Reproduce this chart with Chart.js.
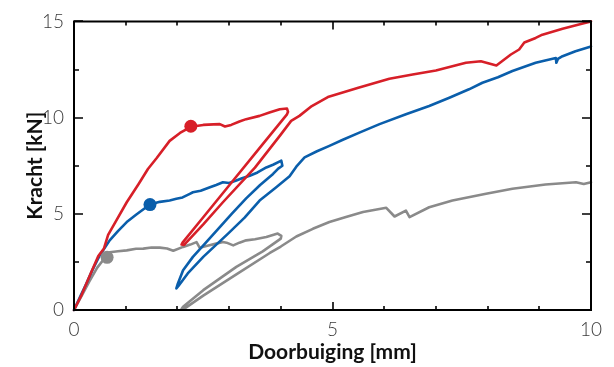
<!DOCTYPE html>
<html>
<head>
<meta charset="utf-8">
<script src="https://cdn.jsdelivr.net/npm/chart.js@4/dist/chart.umd.min.js"></script>
<style>
html,body{margin:0;padding:0;background:#fff;}
#wrap{width:614px;height:367px;position:relative;}
</style>
</head>
<body>
<div id="wrap"><canvas id="c" width="614" height="367"></canvas></div>
<script>
// Red specimen
const redX = [0,0.15,0.3,0.47,0.58,0.66,0.82,1.02,1.25,1.43,1.6,1.85,2.05,2.26,2.5,2.7,2.82,2.92,3.04,3.2,3.33,3.59,3.78,3.98,4.12,4.14,4.12,3.6,3.0,2.5,2.1,2.08,2.13,2.5,2.88,3.5,3.98,4.2,4.36,4.6,4.91,5.5,6.1,6.55,7.0,7.58,7.87,8.17,8.45,8.61,8.71,8.93,9.06,9.45,9.86,10];
const redY = [0,0.8,1.75,2.8,3.2,3.9,4.66,5.6,6.55,7.33,7.9,8.79,9.2,9.52,9.62,9.65,9.66,9.54,9.62,9.8,9.92,10.09,10.26,10.43,10.47,10.3,10.17,8.45,6.47,4.82,3.5,3.4,3.38,4.45,5.6,7.4,9.05,9.83,10.09,10.6,11.07,11.55,12.02,12.24,12.45,12.85,12.93,12.71,13.28,13.54,13.9,14.14,14.31,14.62,14.9,15];
// Blue specimen
const blueX = [0,0.12,0.24,0.36,0.5,0.69,0.85,1.02,1.2,1.35,1.47,1.66,1.85,1.98,2.1,2.24,2.3,2.45,2.63,2.75,2.88,3.0,3.14,3.25,3.4,3.55,3.72,3.85,4.01,4.03,3.95,3.85,3.6,3.33,3.05,2.82,2.55,2.3,2.11,2.01,1.98,2.02,2.2,2.5,2.98,3.3,3.59,3.9,4.17,4.3,4.46,4.7,4.94,5.2,5.52,5.91,6.42,6.87,7.26,7.64,7.9,8.2,8.48,8.93,9.32,9.33,9.36,9.45,9.7,10];
const blueY = [0,0.7,1.38,2.1,2.85,3.62,4.1,4.57,4.95,5.25,5.48,5.62,5.69,5.78,5.85,6.04,6.12,6.2,6.38,6.5,6.64,6.6,6.73,6.85,6.98,7.15,7.41,7.55,7.76,7.5,7.35,7.07,6.5,5.8,5.0,4.31,3.5,2.76,2.07,1.38,1.12,1.25,1.9,2.76,3.97,4.8,5.69,6.35,6.95,7.45,7.93,8.25,8.53,8.85,9.22,9.66,10.17,10.6,11.03,11.47,11.81,12.1,12.42,12.85,13.1,12.85,13.05,13.19,13.45,13.7];
// Grey specimen
const greyX = [0,0.15,0.3,0.45,0.58,0.64,0.69,0.85,1.02,1.2,1.34,1.5,1.66,1.8,1.92,2.11,2.25,2.37,2.43,2.6,2.75,2.88,2.95,3.08,3.2,3.33,3.5,3.72,3.94,4.01,4.0,3.65,3.14,2.5,2.11,2.08,2.15,2.5,3.14,3.78,4.0,4.3,4.62,4.94,5.26,5.59,6.04,6.2,6.42,6.49,6.87,7.32,7.97,8.48,9.12,9.71,9.86,10];
const greyY = [0,0.75,1.5,2.2,2.65,2.74,3.0,3.05,3.1,3.18,3.19,3.25,3.24,3.2,3.08,3.28,3.4,3.53,3.24,3.35,3.45,3.53,3.5,3.36,3.5,3.62,3.68,3.79,3.97,3.85,3.71,3.05,2.24,1.03,0.17,0.05,0.1,0.75,1.85,2.95,3.3,3.82,4.22,4.57,4.83,5.09,5.31,4.86,5.17,4.83,5.34,5.69,6.04,6.3,6.52,6.64,6.55,6.64];
// Marked points (x, y)
const markRed = [2.26, 9.55];
const markBlue = [1.47, 5.48];
const markGrey = [0.64, 2.74];
// Axis ranges and ticks
const xMin = 0, xMax = 10, yMin = 0, yMax = 15;
const xTickVals = [0,1,2,3,4,5,6,7,8,9,10];
const yTickVals = [0,2.5,5,7.5,10,12.5,15];

const RED = '#d71f28', BLUE = '#0a5eab', GREY = '#8a8a8a';
const zip = (xs, ys) => xs.map((x, i) => ({x, y: ys[i]}));

const framePlugin = {
  id: 'frame',
  afterDraw(chart) {
    const {ctx, chartArea: a, scales: {x, y}} = chart;
    ctx.save();
    ctx.strokeStyle = '#000';
    ctx.lineWidth = 2;
    ctx.beginPath();
    ctx.rect(a.left, a.top, a.right - a.left, a.bottom - a.top);
    ctx.stroke();
    ctx.lineWidth = 1.6;
    ctx.beginPath();
    xTickVals.forEach(v => {
      const px = Math.round(x.getPixelForValue(v));
      const len = v % 5 === 0 ? 8 : 4;
      ctx.moveTo(px, a.bottom); ctx.lineTo(px, a.bottom - len);
      ctx.moveTo(px, a.top); ctx.lineTo(px, a.top + len);
    });
    yTickVals.forEach(v => {
      const py = Math.round(y.getPixelForValue(v));
      const len = v % 5 === 0 ? 9 : 5;
      ctx.moveTo(a.left, py); ctx.lineTo(a.left + len, py);
      ctx.moveTo(a.right, py); ctx.lineTo(a.right - len, py);
    });
    ctx.stroke();
    ctx.restore();
  }
};

const lineDs = (data, color, order) => ({
  data, borderColor: color, backgroundColor: color, borderWidth: 2.6,
  showLine: true, pointRadius: 0, tension: 0, fill: false, order,
  borderJoinStyle: 'round', borderCapStyle: 'round'
});
const dotDs = (pt, color) => ({
  data: [{x: pt[0], y: pt[1]}], backgroundColor: color, borderColor: color,
  pointRadius: 6.5, pointBorderWidth: 0, showLine: false, order: 0
});

new Chart(document.getElementById('c'), {
  type: 'scatter',
  data: {
    datasets: [
      lineDs(zip(redX, redY), RED, 1),
      lineDs(zip(blueX, blueY), BLUE, 2),
      lineDs(zip(greyX, greyY), GREY, 3),
      dotDs(markRed, RED),
      dotDs(markBlue, BLUE),
      dotDs(markGrey, GREY)
    ]
  },
  options: {
    responsive: false,
    animation: false,
    clip: false,
    layout: {padding: {top: 20, right: 23, left: 0, bottom: 0}},
    plugins: {legend: {display: false}, tooltip: {enabled: false}},
    scales: {
      x: {
        type: 'linear', min: xMin, max: xMax,
        grid: {display: false, drawTicks: false},
        border: {display: false},
        ticks: {stepSize: 5, padding: 8, color: '#3a3a3a', font: {family: 'Lato', weight: '300', size: 19}},
        title: {display: true, text: 'Doorbuiging [mm]', color: '#111', padding: {top: 0, bottom: 2},
                font: {family: 'Lato', weight: 'bold', size: 21}},
        afterFit(s) { s.height = 57; }
      },
      y: {
        type: 'linear', min: yMin, max: yMax,
        grid: {display: false, drawTicks: false},
        border: {display: false},
        ticks: {stepSize: 5, padding: 10, color: '#3a3a3a', font: {family: 'Lato', weight: '300', size: 19}},
        title: {display: true, text: 'Kracht [kN]', color: '#111', padding: {top: 23, bottom: 0},
                font: {family: 'Lato', weight: 'bold', size: 21}},
        afterFit(s) { s.width = 74; }
      }
    }
  },
  plugins: [framePlugin]
});
</script>
</body>
</html>
